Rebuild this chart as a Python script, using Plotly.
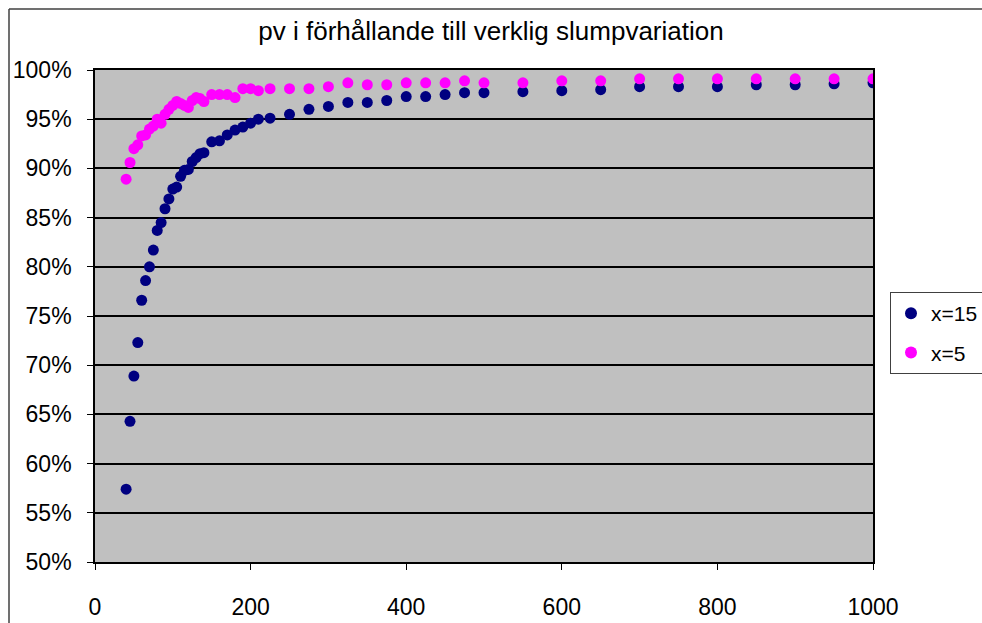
import plotly.graph_objects as go

# Sample sizes (x axis) shared by both series
n_values = [40, 45, 50, 55, 60, 65, 70, 75, 80, 85, 90, 95, 100, 105, 110, 115,
            120, 125, 130, 135, 140, 150, 160, 170, 180, 190, 200, 210, 225, 250,
            275, 300, 325, 350, 375, 400, 425, 450, 475, 500, 550, 600, 650, 700,
            750, 800, 850, 900, 950, 1000]

# Share of the real random variation captured, series x=15
share_x15 = [0.574, 0.643, 0.689, 0.723, 0.766, 0.786, 0.800, 0.817, 0.837, 0.845,
             0.859, 0.869, 0.879, 0.881, 0.892, 0.898, 0.899, 0.907, 0.911, 0.915,
             0.916, 0.927, 0.928, 0.934, 0.939, 0.942, 0.946, 0.950, 0.951, 0.955,
             0.960, 0.963, 0.967, 0.967, 0.969, 0.973, 0.973, 0.975, 0.977, 0.977,
             0.978, 0.979, 0.980, 0.983, 0.983, 0.983, 0.985, 0.985, 0.986, 0.987]

# Share of the real random variation captured, series x=5
share_x5 = [0.889, 0.906, 0.920, 0.924, 0.933, 0.934, 0.940, 0.943, 0.950, 0.946,
            0.955, 0.960, 0.964, 0.968, 0.966, 0.964, 0.962, 0.969, 0.972, 0.971,
            0.968, 0.975, 0.975, 0.975, 0.972, 0.981, 0.981, 0.979, 0.981, 0.981,
            0.981, 0.983, 0.987, 0.985, 0.985, 0.987, 0.987, 0.987, 0.989, 0.987,
            0.987, 0.989, 0.989, 0.991, 0.991, 0.991, 0.991, 0.991, 0.991, 0.991]

y_ticks = [0.50, 0.55, 0.60, 0.65, 0.70, 0.75, 0.80, 0.85, 0.90, 0.95, 1.00]
x_ticks = [0, 200, 400, 600, 800, 1000]

FONT = "Liberation Sans, Arial, sans-serif"
W, H = 982, 623
L, R, T, B = 95, 109, 70, 61

fig = go.Figure()
fig.add_trace(go.Scatter(
    x=n_values, y=share_x15, mode="markers", name="x=15", legendgroup="a",
    marker=dict(color="#000080", size=11),
))
fig.add_trace(go.Scatter(
    x=n_values, y=share_x5, mode="markers", name="x=5", legendgroup="b",
    marker=dict(color="#FF00FF", size=11),
))

fig.update_layout(
    width=W, height=H,
    margin=dict(l=L, r=R, t=T, b=B, autoexpand=False),
    paper_bgcolor="white",
    plot_bgcolor="#C0C0C0",
    font=dict(family=FONT, size=23, color="black"),
    title=dict(text="pv i förhållande till verklig slumpvariation",
               x=0.5, xref="container", xanchor="center",
               y=1 - 31 / H, yref="container", yanchor="middle",
               font=dict(size=26)),
    showlegend=True,
    legend=dict(x=890 / W, xref="container", xanchor="left",
                y=1 - 292 / H, yref="container", yanchor="top",
                bgcolor="white", bordercolor="#404040", borderwidth=1,
                font=dict(size=21), tracegroupgap=9, traceorder="grouped",
                itemsizing="constant"),
    xaxis=dict(range=[0, 1000], tickvals=x_ticks, showgrid=False, zeroline=False,
               showline=True, linecolor="black", linewidth=1.5, mirror=True,
               ticks="outside", ticklen=6, tickcolor="black",
               tickfont=dict(size=23), ticklabelstandoff=18, automargin=False),
    yaxis=dict(range=[0.50, 1.00], tickvals=y_ticks, tickformat=".0%",
               showgrid=True, gridcolor="black", gridwidth=1.6, zeroline=False,
               showline=True, linecolor="black", linewidth=1.6, mirror=True,
               ticks="outside", ticklen=6, tickcolor="black",
               tickfont=dict(size=23), ticklabelstandoff=11, automargin=False),
)

# Chart frame on the left and top edges
fx = (9 - L) / (W - L - R)
fy = 1 + (T - 9) / (H - T - B)
fig.add_shape(type="line", xref="paper", yref="paper",
              x0=fx, y0=-0.3, x1=fx, y1=fy, line=dict(color="#404040", width=1.5))
fig.add_shape(type="line", xref="paper", yref="paper",
              x0=fx, y0=fy, x1=1.3, y1=fy, line=dict(color="#404040", width=1.5))

fig.write_html("out.html")
